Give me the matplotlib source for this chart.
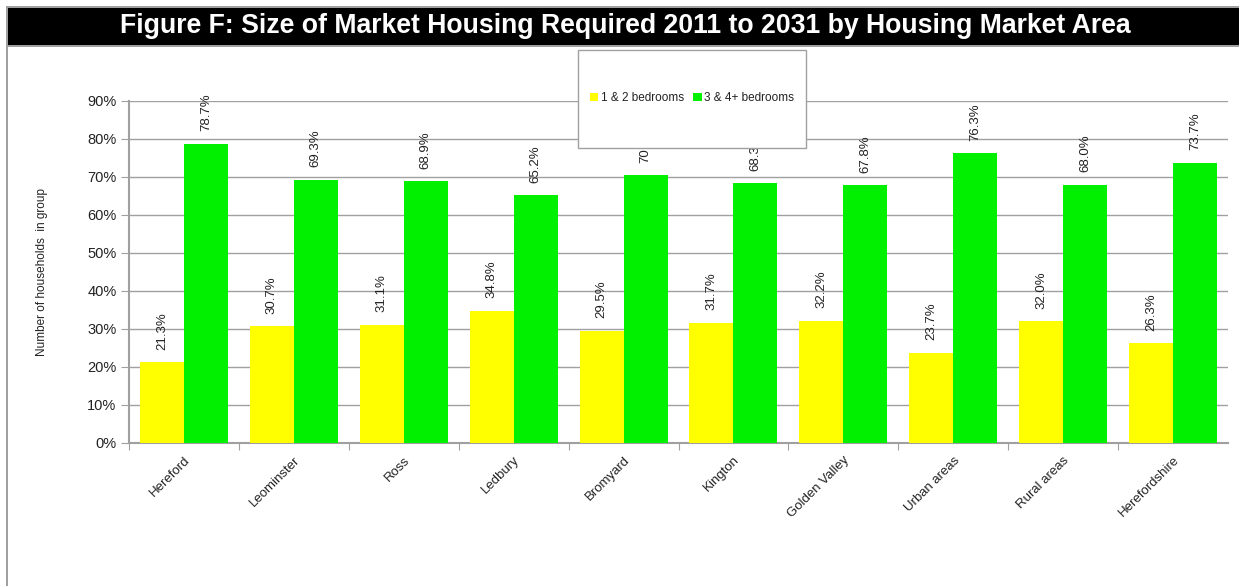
import matplotlib.pyplot as plt
from matplotlib.patches import Rectangle
import numpy as np

# Data
areas = ["Hereford", "Leominster", "Ross", "Ledbury", "Bromyard", "Kington",
         "Golden Valley", "Urban areas", "Rural areas", "Herefordshire"]
small_homes = [21.3, 30.7, 31.1, 34.8, 29.5, 31.7, 32.2, 23.7, 32.0, 26.3]
large_homes = [78.7, 69.3, 68.9, 65.2, 70.5, 68.3, 67.8, 76.3, 68.0, 73.7]
series_names = ["1 & 2 bedrooms", "3 & 4+ bedrooms"]

font = ["Liberation Sans", "DejaVu Sans"]
grey = "#a0a0a0"
text_col = "#222222"

fig = plt.figure(figsize=(12.39, 5.86), dpi=100)
W, H = 1239, 586

# outer frame and black title bar
fig.patches.append(Rectangle((6 / W, 0), 2 / W, 1 - 6 / H, transform=fig.transFigure,
                             facecolor=grey, edgecolor="none"))
fig.patches.append(Rectangle((6 / W, 1 - 8 / H), 1, 2 / H, transform=fig.transFigure,
                             facecolor=grey, edgecolor="none"))
fig.patches.append(Rectangle((8 / W, 1 - 45 / H), 1, 37 / H, transform=fig.transFigure,
                             facecolor="black", edgecolor="none"))
fig.patches.append(Rectangle((8 / W, 1 - 47 / H), 1, 2 / H, transform=fig.transFigure,
                             facecolor=grey, edgecolor="none"))
fig.text(625 / W, 1 - 26 / H,
         "Figure F: Size of Market Housing Required 2011 to 2031 by Housing Market Area",
         color="white", fontsize=19.2, fontweight="bold", ha="center", va="center",
         family=font)

ax = fig.add_axes([129 / W, 1 - 443 / H, (1228 - 129) / W, (443 - 101) / H])

x = np.arange(len(areas))
w = 0.4
ax.bar(x - w / 2, small_homes, w, color="#ffff00", label=series_names[0], zorder=3)
ax.bar(x + w / 2, large_homes, w, color="#00f000", label=series_names[1], zorder=3)

for xi, v in zip(x, small_homes):
    ax.annotate(f"{v:.1f}%", (xi - w / 2, v), xytext=(0, 9), textcoords="offset points",
                rotation=90, ha="center", va="bottom", fontsize=9.5, family=font,
                color=text_col, zorder=2)
for xi, v in zip(x, large_homes):
    ax.annotate(f"{v:.1f}%", (xi + w / 2, v), xytext=(0, 9), textcoords="offset points",
                rotation=90, ha="center", va="bottom", fontsize=9.5, family=font,
                color=text_col, zorder=2)

ax.set_xlim(-0.5, len(areas) - 0.5)
ax.set_ylim(0, 90)
ax.set_yticks(np.arange(0, 91, 10))
ax.set_yticklabels([f"{t}%" for t in range(0, 91, 10)], family=font, fontsize=10.5,
                   color=text_col)
ax.yaxis.grid(True, color=grey, linewidth=1, zorder=0)

ax.set_xticks(x - 0.5, minor=False)
ax.set_xticks(x, minor=True)
ax.set_xticklabels([""] * len(areas))
ax.set_xticklabels(areas, minor=True, rotation=45, ha="right", rotation_mode="anchor",
                   fontsize=9.5, family=font, color=text_col)
ax.tick_params(axis="x", which="minor", length=0, pad=8)
ax.tick_params(axis="x", which="major", length=5, color=grey)
ax.tick_params(axis="y", length=6, color=grey, pad=3)

for side in ["top", "right"]:
    ax.spines[side].set_visible(False)
for side in ["left", "bottom"]:
    ax.spines[side].set_color(grey)
    ax.spines[side].set_linewidth(1.5)

ax.set_ylabel("Number of households  in group", fontsize=8.5, family=font, labelpad=28,
              color=text_col)
ax.set_axisbelow(True)

# legend box drawn as its own white panel over the plot
fig.patches.append(Rectangle((578 / W, 1 - 148 / H), 228 / W, 98 / H,
                             transform=fig.transFigure, facecolor="white",
                             edgecolor=grey, linewidth=1, zorder=4))
leg = ax.legend(ncol=2, loc="center", bbox_to_anchor=(692 / W, 1 - 98 / H),
                bbox_transform=fig.transFigure, prop={"family": font, "size": 8.5},
                handlelength=0.7, handleheight=0.7, handletextpad=0.2,
                columnspacing=0.8, frameon=False, labelcolor=text_col)
leg.set_zorder(6)
fig.legends.append(ax.legend_)
ax.legend_ = None

fig.savefig("out.png", dpi=100)
